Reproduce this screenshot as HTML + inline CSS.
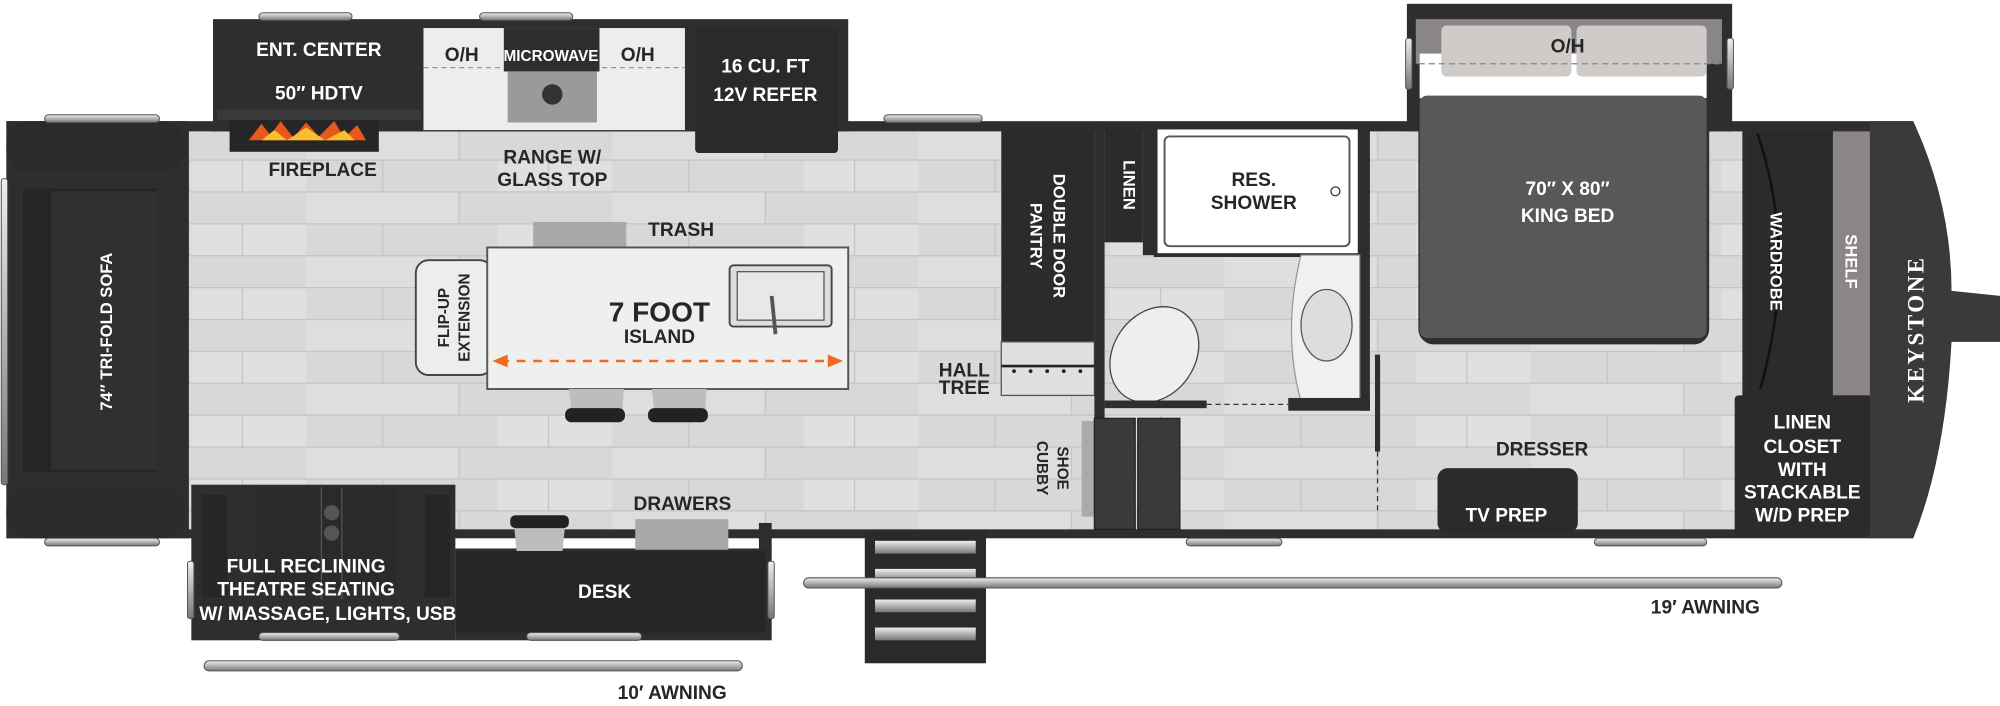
<!DOCTYPE html>
<html><head><meta charset="utf-8"><style>
html,body{margin:0;padding:0;background:#fff;width:2000px;height:706px;overflow:hidden}
svg{display:block}
text{font-family:"Liberation Sans Narrow","Liberation Sans",sans-serif;font-weight:bold;font-size:15px;text-anchor:middle}
.w{fill:#fff}.k{fill:#262626}
</style></head><body>
<svg width="2000" height="706" viewBox="0 0 1568 553.5" preserveAspectRatio="none">
<defs>
<pattern id="pl" width="240" height="50" patternUnits="userSpaceOnUse">
<rect width="240" height="50" fill="#d8d8d8"/>
<rect x="0" y="0" width="120" height="25" fill="#dedede"/>
<rect x="150" y="25" width="90" height="25" fill="#e0e0e0"/>
<line x1="0" y1="0.5" x2="240" y2="0.5" stroke="#c4c4c4"/>
<line x1="0" y1="25.5" x2="240" y2="25.5" stroke="#c4c4c4"/>
<line x1="120" y1="0" x2="120" y2="25" stroke="#c4c4c4"/>
<line x1="60" y1="25" x2="60" y2="50" stroke="#c4c4c4"/>
<line x1="190" y1="25" x2="190" y2="50" stroke="#c4c4c4"/>
</pattern>
<linearGradient id="bar" x1="0" y1="0" x2="0" y2="1"><stop offset="0" stop-color="#eee"/><stop offset="1" stop-color="#777"/></linearGradient>
</defs>
<!-- main body -->
<rect x="5" y="95" width="1495" height="327" fill="#2e2d2f"/>
<path d="M1466 95 L1500 95 Q1530 160 1530 228 L1568 232 L1568 268 L1530 268 Q1525 360 1500 422 L1466 422Z" fill="#3a393b"/>
<rect x="148" y="103" width="1218" height="312" fill="url(#pl)"/>
<!-- top slide -->
<rect x="167" y="15" width="498" height="88" fill="#2e2d2f"/>
<rect x="332" y="22" width="205" height="80" fill="#ededeb"/>
<line x1="332" y1="53" x2="537" y2="53" stroke="#999" stroke-dasharray="4 3"/>
<rect x="395" y="22" width="75" height="34" fill="#2e2d2f"/>
<rect x="398" y="56" width="70" height="40" fill="#9a9a9a"/>
<circle cx="433" cy="74" r="8" fill="#333"/>
<rect x="545" y="22" width="112" height="98" fill="#2a292b" rx="3"/>
<rect x="180" y="92" width="117" height="27" fill="#262527"/>
<path d="M195 110 L205 97 L212 106 L220 95 L230 108 L240 96 L250 107 L262 95 L270 108 L280 98 L287 110 Z" fill="#e8581c"/>
<path d="M205 110 L215 102 L225 110 L240 100 L255 110 L270 102 L278 110Z" fill="#f8c030"/>
<rect x="170" y="86" width="160" height="8" fill="#3a3a3a"/>
<!-- sofa -->
<rect x="5" y="95" width="143" height="327" fill="#2e2d2f"/>
<rect x="18" y="148" width="105" height="222" fill="#252426"/>
<rect x="40" y="150" width="83" height="218" fill="#303032"/>
<rect x="5" y="95" width="140" height="40" rx="18" fill="#2b2a2c"/>
<rect x="5" y="382" width="140" height="40" rx="18" fill="#2b2a2c"/>
<!-- island -->
<rect x="418" y="174" width="73" height="20" fill="#a9a9a9"/>
<rect x="326" y="204" width="60" height="90" rx="10" fill="#ededed" stroke="#444" stroke-width="1.5"/>
<rect x="382" y="194" width="283" height="111" fill="#efefee" stroke="#555" stroke-width="1.5"/>
<rect x="572" y="208" width="80" height="48" rx="3" fill="#ddd" stroke="#444" stroke-width="1.5"/>
<rect x="578" y="213" width="68" height="38" fill="#e8e8e8" stroke="#555"/>
<line x1="605" y1="232" x2="608" y2="262" stroke="#555" stroke-width="3"/>
<line x1="392" y1="283" x2="655" y2="283" stroke="#ef6a22" stroke-width="2" stroke-dasharray="7 6"/>
<path d="M386 283 L398 278 L398 288Z M661 283 L649 278 L649 288Z" fill="#ef6a22"/>
<path d="M446 305 L489 305 L488 322 L448 322Z M511 305 L554 305 L553 322 L513 322Z" fill="#bdbdbd"/>
<rect x="443" y="320" width="47" height="11" rx="5" fill="#222"/>
<rect x="508" y="320" width="47" height="11" rx="5" fill="#222"/>
<!-- bottom slide -->
<rect x="150" y="380" width="207" height="122" fill="#2e2d2f"/>
<rect x="357" y="430" width="248" height="72" fill="#2e2d2f"/>
<rect x="595" y="410" width="10" height="22" fill="#2e2d2f"/>
<rect x="498" y="407" width="73" height="24" fill="#a9a9a9"/>
<path d="M403 412 L443 412 L441 432 L405 432Z" fill="#bdbdbd"/>
<rect x="400" y="404" width="46" height="10" rx="4" fill="#222"/>
<rect x="200" y="382" width="110" height="80" fill="#2a292b"/>
<line x1="252" y1="382" x2="252" y2="470" stroke="#555"/><line x1="268" y1="382" x2="268" y2="470" stroke="#555"/>
<circle cx="260" cy="402" r="6" fill="#555"/><circle cx="260" cy="418" r="6" fill="#555"/>
<rect x="158" y="388" width="20" height="80" fill="#262527"/><rect x="333" y="388" width="20" height="80" fill="#262527"/>
<rect x="357" y="432" width="243" height="64" fill="#262527"/>
<!-- rear interior -->
<rect x="785" y="100" width="73" height="168" fill="#2b2a2c"/>
<rect x="785" y="268" width="73" height="42" fill="#e2e0de" stroke="#555"/>
<line x1="785" y1="287" x2="858" y2="287" stroke="#222" stroke-width="2"/>
<g fill="#222"><circle cx="795" cy="291" r="1.5"/><circle cx="808" cy="291" r="1.5"/><circle cx="821" cy="291" r="1.5"/><circle cx="834" cy="291" r="1.5"/><circle cx="847" cy="291" r="1.5"/></g>
<rect x="858" y="100" width="8" height="315" fill="#2e2d2f"/>
<rect x="866" y="100" width="30" height="90" fill="#2b2a2c"/>
<rect x="896" y="100" width="10" height="100" fill="#2e2d2f"/>
<rect x="906" y="100" width="160" height="100" fill="#fff" stroke="#2e2d2f" stroke-width="3"/>
<rect x="913" y="107" width="145" height="86" rx="4" fill="#fff" stroke="#555" stroke-width="1.5"/>
<circle cx="1047" cy="150" r="3.5" fill="none" stroke="#333"/>
<rect x="1066" y="100" width="8" height="222" fill="#2e2d2f"/>
<path d="M1020 200 L1066 200 L1066 315 L1020 315 Q1005 260 1020 200Z" fill="#f0f0f0" stroke="#999"/>
<ellipse cx="1040" cy="255" rx="20" ry="28" fill="#ddd" stroke="#555"/>
<ellipse cx="905" cy="278" rx="32" ry="40" transform="rotate(35 905 278)" fill="#eee" stroke="#444"/>
<rect x="866" y="314" width="80" height="6" fill="#2e2d2f"/>
<line x1="946" y1="317" x2="1010" y2="317" stroke="#333" stroke-dasharray="4 3"/>
<rect x="1010" y="312" width="64" height="10" fill="#2e2d2f"/>
<rect x="1078" y="278" width="4" height="76" fill="#2e2d2f"/>
<line x1="1080" y1="354" x2="1080" y2="400" stroke="#333" stroke-dasharray="4 3"/>
<rect x="848" y="330" width="10" height="75" fill="#aaa"/>
<rect x="858" y="328" width="32" height="87" fill="#3a393b" stroke="#222"/>
<rect x="892" y="328" width="33" height="87" fill="#3a393b" stroke="#222"/>
<!-- bedroom slide -->
<rect x="1103" y="3" width="255" height="100" fill="#2e2d2f"/>
<rect x="1110" y="15" width="240" height="35" fill="#8a8588"/>
<rect x="1112" y="44" width="228" height="226" rx="12" fill="#2e2d2f"/>
<rect x="1113" y="42" width="225" height="35" fill="#fff"/>
<rect x="1113" y="75" width="225" height="190" rx="6" fill="#5a5759"/>
<rect x="1130" y="20" width="102" height="40" rx="4" fill="#cfcbc8"/>
<rect x="1236" y="20" width="102" height="40" rx="4" fill="#cfcbc8"/>
<line x1="1112" y1="50" x2="1348" y2="50" stroke="#888" stroke-dasharray="5 3"/>
<!-- front -->
<rect x="1370" y="103" width="67" height="207" fill="#2b2a2c"/>
<path d="M1378 105 Q1410 200 1380 305" stroke="#111" fill="none" stroke-width="2"/>
<rect x="1437" y="103" width="29" height="207" fill="#8a8588"/>
<rect x="1360" y="310" width="106" height="110" rx="3" fill="#2b2a2c"/>
<rect x="1127" y="367" width="110" height="51" rx="8" fill="#2b2a2c"/>
<!-- steps -->
<rect x="678" y="416" width="95" height="104" fill="#2a292b"/>
<g fill="url(#bar)"><rect x="686" y="424" width="79" height="10"/><rect x="686" y="446" width="79" height="10"/><rect x="686" y="470" width="79" height="10"/><rect x="686" y="492" width="79" height="10"/></g>
<!-- window bars -->
<g fill="url(#bar)" stroke="#555" stroke-width=".8">
<rect x="203" y="10" width="73" height="6" rx="3"/><rect x="376" y="10" width="73" height="6" rx="3"/>
<rect x="35" y="90" width="90" height="6" rx="3"/><rect x="35" y="422" width="90" height="6" rx="3"/>
<rect x="693" y="90" width="77" height="6" rx="3"/>
<rect x="203" y="496" width="110" height="6" rx="3"/><rect x="413" y="496" width="90" height="6" rx="3"/>
<rect x="930" y="422" width="75" height="6" rx="3"/><rect x="1250" y="422" width="88" height="6" rx="3"/>
<rect x="1" y="140" width="5" height="240" rx="2"/>
<rect x="1102" y="30" width="5" height="40" rx="2"/><rect x="1354" y="30" width="5" height="40" rx="2"/>
<rect x="147" y="440" width="5" height="45" rx="2"/><rect x="602" y="440" width="5" height="45" rx="2"/>
<rect x="630" y="453" width="767" height="8" rx="4"/>
<rect x="160" y="518" width="422" height="8" rx="4"/>
</g>
<!-- labels -->
<g class="w">
<text x="250" y="44">ENT. CENTER</text>
<text x="250" y="78">50″ HDTV</text>
<text x="432" y="48" style="font-size:12px">MICROWAVE</text>
<text x="600" y="57">16 CU. FT</text>
<text x="600" y="79">12V REFER</text>
<text transform="translate(88 260) rotate(-90)" style="font-family:'Liberation Sans',sans-serif;font-size:13px">74″ TRI-FOLD SOFA</text>
<text x="240" y="449">FULL RECLINING</text>
<text x="240" y="467">THEATRE SEATING</text>
<text x="257" y="486">W/ MASSAGE, LIGHTS, USB</text>
<text x="474" y="469">DESK</text>
<text transform="translate(826 185) rotate(90)" style="font-family:'Liberation Sans',sans-serif;font-size:13px">DOUBLE DOOR</text>
<text transform="translate(808 185) rotate(90)" style="font-family:'Liberation Sans',sans-serif;font-size:13px">PANTRY</text>
<text transform="translate(881 145) rotate(90)" style="font-family:'Liberation Sans',sans-serif;font-size:13px">LINEN</text>
<text x="1229" y="153">70″ X 80″</text>
<text x="1229" y="174">KING BED</text>
<text transform="translate(1388 205) rotate(90)" style="font-family:'Liberation Sans',sans-serif;font-size:13px">WARDROBE</text>
<text transform="translate(1447 205) rotate(90)" style="font-family:'Liberation Sans',sans-serif;font-size:13px">SHELF</text>
<text transform="translate(1508 258) rotate(-90)" style="font-family:'Liberation Serif',serif;font-size:18px;letter-spacing:2px">KEYSTONE</text>
<text x="1413" y="336">LINEN</text>
<text x="1413" y="355">CLOSET</text>
<text x="1413" y="373">WITH</text>
<text x="1413" y="391">STACKABLE</text>
<text x="1413" y="409">W/D PREP</text>
<text x="1181" y="409">TV PREP</text>
</g>
<g class="k">
<text x="362" y="48">O/H</text>
<text x="500" y="48">O/H</text>
<text x="253" y="138">FIREPLACE</text>
<text x="433" y="128">RANGE W/</text>
<text x="433" y="146">GLASS TOP</text>
<text x="534" y="185">TRASH</text>
<text x="517" y="252" style="font-size:22px">7 FOOT</text>
<text x="517" y="269">ISLAND</text>
<text transform="translate(352 249) rotate(-90)" style="font-family:'Liberation Sans',sans-serif;font-size:12px">FLIP-UP</text>
<text transform="translate(368 249) rotate(-90)" style="font-family:'Liberation Sans',sans-serif;font-size:12px">EXTENSION</text>
<text x="756" y="295">HALL</text>
<text x="756" y="309">TREE</text>
<text transform="translate(829 367) rotate(90)" style="font-family:'Liberation Sans',sans-serif;font-size:12px">SHOE</text>
<text transform="translate(813 367) rotate(90)" style="font-family:'Liberation Sans',sans-serif;font-size:12px">CUBBY</text>
<text x="983" y="146">RES.</text>
<text x="983" y="164">SHOWER</text>
<text x="1229" y="41">O/H</text>
<text x="535" y="400">DRAWERS</text>
<text x="1209" y="357">DRESSER</text>
<text x="1337" y="481">19′ AWNING</text>
<text x="527" y="548">10′ AWNING</text>
</g>
</svg>
</body></html>
